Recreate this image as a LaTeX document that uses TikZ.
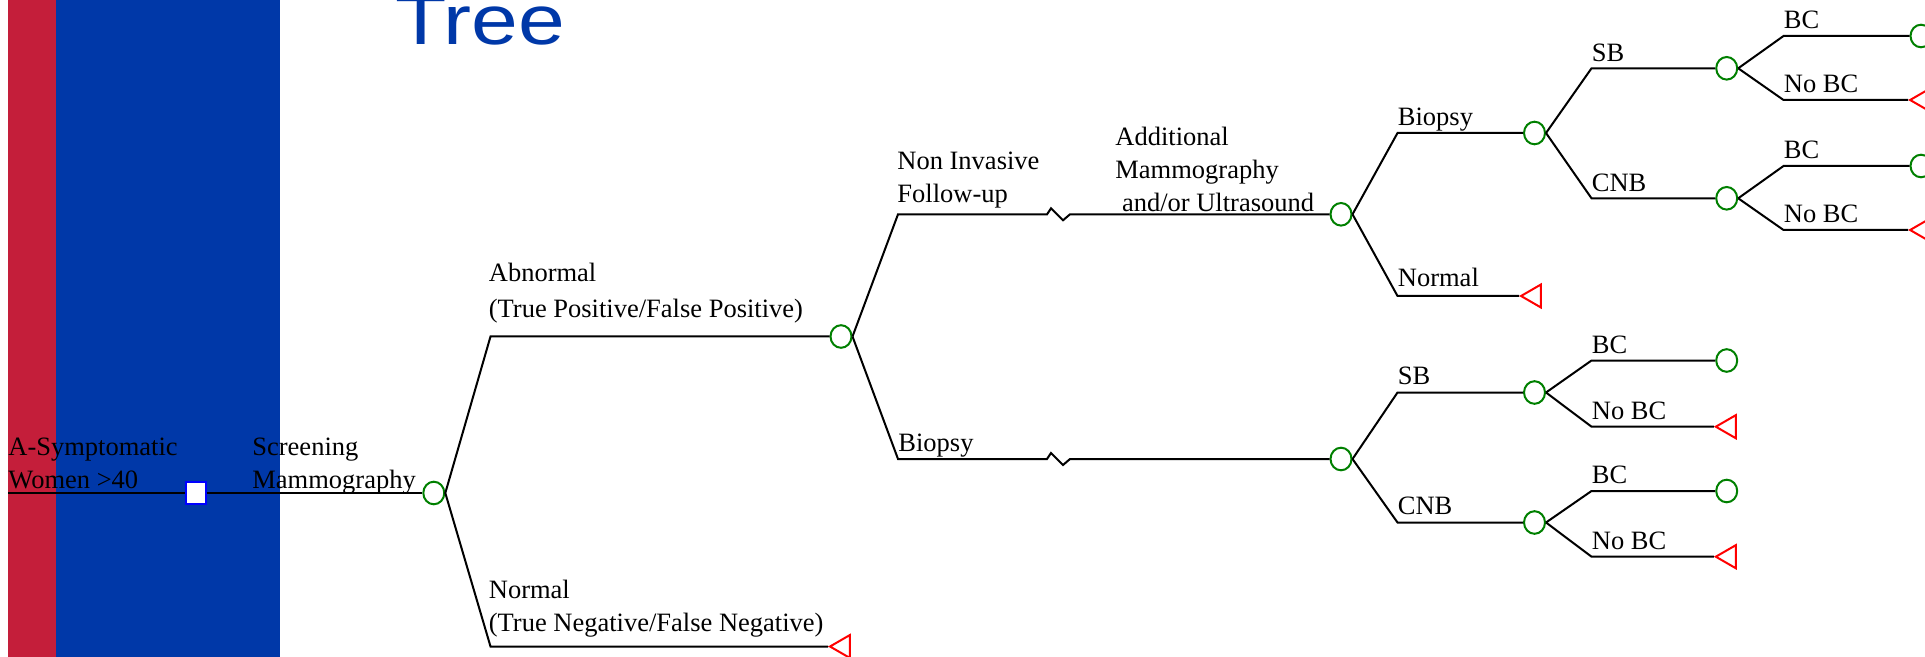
\documentclass[tikz,border=0pt]{standalone}
\usepackage{fontspec}
\setmainfont{Liberation Serif}
\newfontfamily\titlefont[FakeStretch=1.2]{Liberation Sans}
\usetikzlibrary{positioning,shapes.geometric}
\definecolor{stripred}{RGB}{196,30,58}
\definecolor{slideblue}{RGB}{0,56,168}
\definecolor{chancegreen}{RGB}{0,128,0}
\tikzstyle{branch} = [draw=black, line width=1pt]
\tikzstyle{chance} = [ellipse, draw=chancegreen, line width=1pt, minimum width=10.5pt, minimum height=11.3pt, inner sep=0pt]
\tikzstyle{terminal} = [regular polygon, regular polygon sides=3, shape border rotate=90, draw=red, line width=1pt, minimum size=13.3pt, inner sep=0pt]
\tikzstyle{decision} = [rectangle, draw=blue, fill=white, line width=1pt, minimum width=10pt, minimum height=10.8pt, inner sep=0pt]
\tikzstyle{lbl} = [anchor=south west, inner sep=0pt, text depth=0pt, align=left, font=\fontsize{13.25}{16.5}\selectfont]

\begin{document}
\begin{tikzpicture}[x=0.5pt,y=-0.5pt]
	\useasboundingbox (0,0) rectangle (1925,657);
	\clip (0,0) rectangle (1925,657);
	% slide background
	\fill[white] (0,0) rectangle (1925,657);
	\fill[stripred] (8,0) rectangle (56,657);
	\fill[slideblue] (56,0) rectangle (280,657);
	\node[anchor=base west, inner sep=0pt, text=slideblue, font=\titlefont\fontsize{35}{35}\selectfont] (title) at (395,44.5) {Tree};

	% root
	\coordinate (start) at (8,493);
	\node[decision] (dec) at (195.7,493) {};
	\node[chance] (scr) at (433.8,493) {};
	\draw[branch] (start) -- (dec) -- (scr);
	\node[lbl] (lwomen) at (8,489.3) {A-Symptomatic\\Women >40};
	\node[lbl] (lscr) at (252,489.3) {Screening\\Mammography};

	% screening result
	\coordinate (cabn) at (490.5,336.5);
	\coordinate (cnorm) at (490.5,646.5);
	\node[chance] (abn) at (841,336.5) {};
	\node[terminal] (tnorm) at (843.3,646.5) {};
	\draw[branch] (scr.east) -- (cabn) -- (abn);
	\draw[branch] (scr.east) -- (cnorm) -- (tnorm);
	\node[lbl, above right=9.3pt and -1pt of cabn] (labn) {Abnormal\\[1.5pt](True Positive/False Positive)};
	\node[lbl, above right=7.4pt and -1pt of cnorm] (lnorm) {Normal\\(True Negative/False Negative)};

	% abnormal follow-up
	\coordinate (cnon) at (898,214.3);
	\coordinate (cbio) at (898,459);
	\node[chance] (add) at (1341,214.3) {};
	\node[chance] (bio) at (1341,459) {};
	\draw[branch] (abn.east) -- (cnon) -- ++(149,0) -- ++(4,-6) -- ++(12,12) -- ++(7,-6) -- (add);
	\draw[branch] (abn.east) -- (cbio) -- ++(149,0) -- ++(4,-6) -- ++(12,12) -- ++(7,-6) -- (bio);
	\node[lbl, above right=5.8pt and -0.5pt of cnon] (lnon) {Non Invasive\\Follow-up};
	\node[lbl, above right=3.4pt and 0pt of cbio] (lbio) {Biopsy};
	\node[lbl] (ladd) at (1115,211.7) {Additional\\Mammography\\\hspace*{3.3pt}and/or Ultrasound};

	% additional imaging
	\coordinate (cbx) at (1397.5,133);
	\coordinate (cnm) at (1397.5,296);
	\node[chance] (bx) at (1534.5,133) {};
	\node[terminal] (tnm) at (1534.3,296) {};
	\draw[branch] (add.east) -- (cbx) -- (bx);
	\draw[branch] (add.east) -- (cnm) -- (tnm);
	\node[lbl, above right=3.4pt and 0pt of cbx] (lbx) {Biopsy};
	\node[lbl, above right=4.3pt and 0pt of cnm] (lnm) {Normal};

	% biopsy type
	\coordinate (csb) at (1591.5,68.3);
	\coordinate (ccnb) at (1591.5,198.3);
	\node[chance] (sb) at (1726.7,68.3) {};
	\node[chance] (cnb) at (1726.7,198.3) {};
	\draw[branch] (bx.east) -- (csb) -- (sb);
	\draw[branch] (bx.east) -- (ccnb) -- (cnb);
	\node[lbl, above right=3.3pt and 0pt of csb] (lsb) {SB};
	\node[lbl, above right=3.3pt and 0pt of ccnb] (lcnb) {CNB};

	\coordinate (csb2) at (1397.5,392.5);
	\coordinate (ccnb2) at (1397.5,522.5);
	\node[chance] (sb2) at (1534.5,392.5) {};
	\node[chance] (cnb2) at (1534.5,522.5) {};
	\draw[branch] (bio.east) -- (csb2) -- (sb2);
	\draw[branch] (bio.east) -- (ccnb2) -- (cnb2);
	\node[lbl, above right=3.7pt and 0pt of csb2] (lsb2) {SB};
	\node[lbl, above right=3.7pt and 0pt of ccnb2] (lcnb2) {CNB};

	% cancer or not
	\foreach \src/\cx/\ybc/\ync/\lx in {sb/1783.5/36/100/1921, cnb/1783.5/166/230/1921, sb2/1591.5/360.5/426.7/1726.7, cnb2/1591.5/491/556.7/1726.7} {
		\coordinate (cbc-\src) at (\cx,\ybc);
		\coordinate (cno-\src) at (\cx,\ync);
		\node[chance] (bc-\src) at (\lx,\ybc) {};
		\node[terminal, xshift=1.2pt] (nbc-\src) at (\lx,\ync) {};
		\draw[branch] (\src.east) -- (cbc-\src) -- (bc-\src);
		\draw[branch] (\src.east) -- (cno-\src) -- (nbc-\src);
		\node[lbl, above right=3.4pt and 0pt of cbc-\src] {BC};
		\node[lbl, above right=3.4pt and 0pt of cno-\src] {No BC};
	}
\end{tikzpicture}
\end{document}
